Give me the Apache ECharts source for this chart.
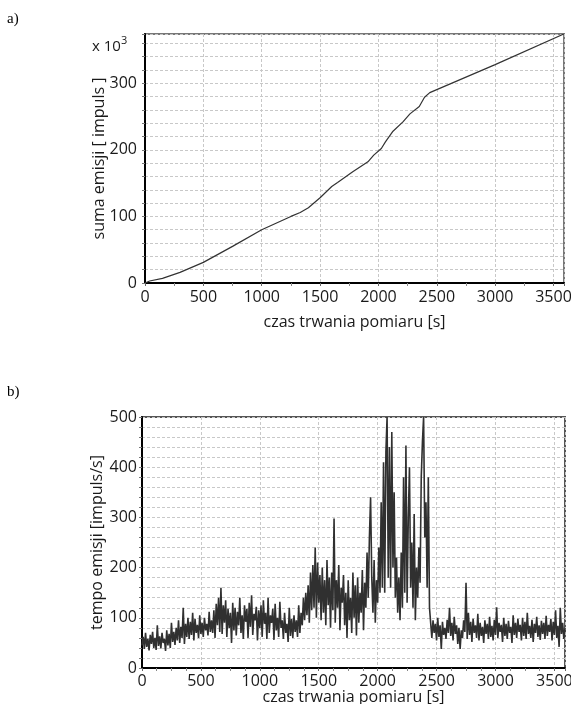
<!DOCTYPE html>
<html>
<head>
<meta charset="utf-8">
<script src="https://cdn.jsdelivr.net/npm/echarts@6/dist/echarts.min.js"></script>
<style>
  html, body { margin: 0; padding: 0; background: #fff; }
  #chart { width: 571px; height: 704px; }
</style>
</head>
<body>
<div id="chart"></div>
<script>
// a) cumulative emission sum [x 10^3 impuls] read at time points [s]
const sumTime = [0, 40, 150, 300, 500, 750, 1000, 1250, 1330, 1400, 1500, 1600, 1650, 1780, 1910, 1960, 2025, 2060, 2125, 2210, 2270, 2350, 2395, 2440, 2600, 3000, 3588]
const sumValues = [0, 3, 7, 16, 31, 55, 80, 100, 106, 113, 128, 145, 151, 167, 182, 192, 202, 212, 228, 242, 254, 265, 279, 286, 298, 328, 374]

// b) emission rate [impuls/s], one reading every rateStep seconds
const rateStep = 10
const rateValues = [
  45, 62, 38, 70, 42, 58, 35, 66, 48, 72,
  40, 60, 36, 85, 44, 63, 39, 70, 50, 58,
  34, 75, 45, 68, 40, 90, 52, 72, 46, 80,
  55, 95, 50, 82, 60, 120, 48, 88, 62, 100,
  58, 92, 66, 110, 55, 98, 70, 86, 60, 105,
  68, 90, 62, 100, 75, 88, 65, 112, 72, 95,
  70, 115, 60, 128, 85, 140, 72, 160, 68, 125,
  90, 135, 62, 118, 80, 110, 50, 130, 75, 120,
  65, 112, 85, 140, 70, 105, 58, 125, 92, 118,
  60, 130, 82, 145, 66, 108, 95, 122, 55, 115,
  80, 125, 62, 135, 88, 110, 58, 140, 70, 105,
  90, 118, 56, 128, 75, 100, 62, 132, 80, 95,
  58, 110, 70, 88, 52, 120, 64, 98, 60, 105,
  72, 95, 62, 125, 70, 110, 85, 140, 95, 150,
  105, 165, 90, 190, 115, 205, 120, 240, 100, 210,
  130, 185, 95, 200, 110, 175, 85, 215, 125, 180,
  80, 190, 115, 298, 90, 175, 120, 205, 75, 160,
  130, 185, 85, 150, 60, 175, 95, 140, 70, 190,
  100, 165, 65, 180, 90, 150, 110, 195, 75, 170,
  120, 230, 140, 260, 340, 180, 110, 215, 90, 175,
  130, 240, 150, 330, 160, 410, 150, 430, 500, 180,
  440, 160, 470, 200, 350, 140, 220, 110, 180, 95,
  230, 120, 380, 150, 443, 130, 300, 400, 160, 250,
  120, 307, 95, 200, 140, 240, 170, 380, 450, 500,
  260, 330, 160, 380, 120, 90, 60, 95, 70, 88,
  55, 100, 62, 85, 38, 92, 66, 80, 58, 96,
  70, 120, 64, 90, 55, 102, 68, 85, 48, 80,
  38, 75, 60, 95, 72, 170, 58, 110, 66, 92,
  52, 98, 70, 85, 60, 108, 55, 90, 64, 82,
  50, 95, 68, 88, 58, 102, 62, 84, 55, 96,
  66, 121, 60, 90, 72, 86, 52, 100, 64, 88,
  58, 94, 70, 82, 50, 105, 66, 90, 60, 98,
  72, 86, 55, 100, 64, 92, 58, 110, 68, 84,
  60, 96, 52, 88, 70, 102, 62, 85, 56, 94,
  68, 90, 58, 104, 64, 86, 72, 98, 55, 92,
  66, 115, 60, 84, 42, 120, 68, 90, 58, 80
]

const timeMax = 3590
const sumMax = 374
const rateMax = 500

const font = '"Open Sans", "Noto Sans", sans-serif'
const textColor = '#1a1a1a'
const gridColor = '#c8c8c8'

const xAxisBase = (gridIndex, splitNumber, nameGap, labelMargin) => ({
  type: 'value',
  gridIndex,
  min: 0,
  max: timeMax,
  interval: 500,
  name: 'czas trwania pomiaru [s]',
  nameLocation: 'middle',
  nameGap,
  nameMoveOverlap: false,
  nameTextStyle: { color: textColor, fontSize: 16, fontFamily: font },
  axisLine: { lineStyle: { color: '#000', width: 2 } },
  axisTick: { show: true, length: 3, lineStyle: { color: '#666' } },
  minorTick: { show: true, splitNumber, length: 3, lineStyle: { color: '#888' } },
  axisLabel: {
    color: textColor, fontSize: 16, fontFamily: font, margin: labelMargin,
    formatter: v => (v % 500 === 0 ? String(v) : ''),
  },
  splitLine: { show: true, lineStyle: { color: gridColor, type: [3, 2], width: 1 } },
})

const yAxisBase = (gridIndex, max, name, nameGap, labelMargin) => ({
  type: 'value',
  gridIndex,
  min: 0,
  max,
  interval: 20,
  name,
  nameLocation: 'middle',
  nameGap,
  nameMoveOverlap: false,
  nameTextStyle: { color: textColor, fontSize: 16, fontFamily: font },
  axisLine: { show: true, lineStyle: { color: '#000', width: 2 } },
  axisTick: { show: true, length: 3, lineStyle: { color: '#777' } },
  axisLabel: {
    color: textColor, fontSize: 16, fontFamily: font, margin: labelMargin,
    formatter: v => (v % 100 === 0 ? String(v) : ''),
  },
  splitLine: { show: true, lineStyle: { color: gridColor, type: [3, 2], width: 1 } },
})

const sumData = sumTime.map((t, i) => [t, sumValues[i]])
const rateData = rateValues.map((v, i) => [i * rateStep, v])

const chart = echarts.init(document.getElementById('chart'))
chart.setOption({
  animation: false,
  backgroundColor: '#fff',
  grid: [
    { left: 145, top: 34, width: 419, height: 249, outerBoundsMode: 'none', show: true, borderColor: '#777', borderWidth: 2, backgroundColor: 'transparent' },
    { left: 142, top: 417, width: 423, height: 251, outerBoundsMode: 'none', show: true, borderColor: '#555', borderWidth: 2, backgroundColor: 'transparent' },
  ],
  xAxis: [
    xAxisBase(0, 2, 31, 6),
    xAxisBase(1, 4, 21, 5),
  ],
  yAxis: [
    yAxisBase(0, sumMax, 'suma emisji [ impuls ]', 38, 8),
    yAxisBase(1, rateMax, 'tempo emisji [impuls/s]', 37, 5),
  ],
  graphic: [
    { type: 'text', left: 7, top: 12, style: { text: 'a)', fontSize: 15, fontFamily: '"Liberation Serif", serif', fill: '#000' } },
    { type: 'text', left: 7, top: 385, style: { text: 'b)', fontSize: 15, fontFamily: '"Liberation Serif", serif', fill: '#000' } },
    {
      type: 'text', left: 92, top: 35,
      style: {
        text: '{b|x 10}{s|3}',
        rich: {
          b: { fontSize: 15, fontFamily: font, fill: textColor, padding: [6, 0, 0, 0] },
          s: { fontSize: 11, fontFamily: font, fill: textColor, padding: [0, 0, 6, 0] },
        },
      },
    },
  ],
  series: [
    {
      type: 'line',
      xAxisIndex: 0,
      yAxisIndex: 0,
      data: sumData,
      showSymbol: false,
      lineStyle: { color: '#333', width: 1.2 },
    },
    {
      type: 'line',
      xAxisIndex: 1,
      yAxisIndex: 1,
      data: rateData,
      showSymbol: false,
      lineStyle: { color: '#303030', width: 1.6 },
    },
  ],
})
</script>
</body>
</html>
